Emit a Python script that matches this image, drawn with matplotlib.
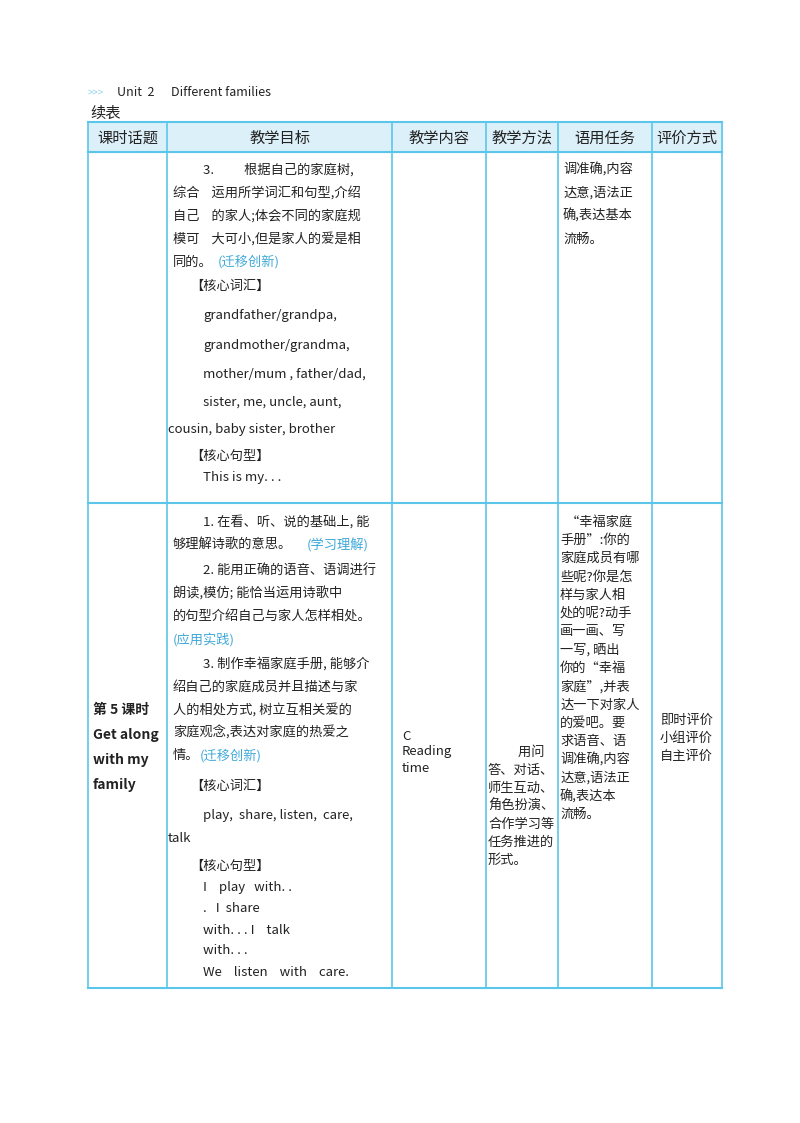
import matplotlib.pyplot as plt

plt.rcParams['font.family'] = ['Noto Sans CJK SC', 'DejaVu Sans']

headers = ["课时话题", "教学目标", "教学内容", "教学方法", "语用任务", "评价方式"]
col_x = [88, 167, 392, 486, 558, 652, 722]
row_y = [122, 152, 503, 988]

blue = '#3fa9d9'
line_c = '#5cc6ea'
dark = '#222222'

# (x, y, text, colour, size)
goal1 = [
    (203, 170, "3.          根据自己的家庭树,", dark, 9.5),
    (173, 193, "综合    运用所学词汇和句型,介绍", dark, 9.5),
    (173, 216, "自己    的家人;体会不同的家庭规", dark, 9.5),
    (173, 239, "模可    大可小,但是家人的爱是相", dark, 9.5),
    (173, 262, "同的。", dark, 9.5),
    (190, 286, "【核心词汇】", dark, 9.5),
    (203, 316, "grandfather/grandpa,", dark, 9.5),
    (203, 345, "grandmother/grandma,", dark, 9.5),
    (203, 374, "mother/mum , father/dad,", dark, 9.5),
    (203, 402, "sister, me, uncle, aunt,", dark, 9.5),
    (168, 430, "cousin, baby sister, brother", dark, 9.5),
    (190, 456, "【核心句型】", dark, 9.5),
    (203, 478, "This is my. . .", dark, 9.5),
]
goal1_blue = [(218, 262, "(迁移创新)")]

task1 = ["调准确,内容", "达意,语法正", "确,表达基本", "流畅。"]

goal2 = [
    (203, 522, "1. 在看、听、说的基础上, 能"),
    (173, 545, "够理解诗歌的意思。"),
    (203, 571, "2. 能用正确的语音、语调进行"),
    (173, 594, "朗读,模仿; 能恰当运用诗歌中"),
    (173, 617, "的句型介绍自己与家人怎样相处。"),
    (203, 664, "3. 制作幸福家庭手册, 能够介"),
    (173, 687, "绍自己的家庭成员并且描述与家"),
    (173, 710, "人的相处方式, 树立互相关爱的"),
    (173, 733, "家庭观念,表达对家庭的热爱之"),
    (173, 756, "情。"),
    (190, 786, "【核心词汇】"),
    (203, 816, "play,  share, listen,  care,"),
    (168, 838, "talk"),
    (190, 866, "【核心句型】"),
    (203, 888, "I    play   with. ."),
    (203, 909, ".   I  share"),
    (203, 930, "with. . . I    talk"),
    (203, 951, "with. . ."),
    (203, 973, "We    listen    with    care."),
]
goal2_blue = [(307, 545, "(学习理解)"), (173, 640, "(应用实践)"), (200, 756, "(迁移创新)")]

topic2 = ["第 5 课时", "Get along", "with my", "family"]
content2 = ["C", "Reading", "time"]
method2 = ["          用问", "答、对话、", "师生互动、", "角色扮演、", "合作学习等", "任务推进的", "形式。"]
task2 = ["  \u201c幸福家庭", "手册\u201d:你的", "家庭成员有哪", "些呢?你是怎", "样与家人相", "处的呢?动手", "画一画、写", "一写, 晒出", "你的\u201c幸福", "家庭\u201d,并表", "达一下对家人", "的爱吧。要", "求语音、语", "调准确,内容", "达意,语法正", "确,表达本", "流畅。"]
eval2 = ["即时评价", "小组评价", "自主评价"]

fig = plt.figure(figsize=(8, 11.23), dpi=100)
ax = fig.add_axes([0, 0, 1, 1])
ax.set_xlim(0, 800)
ax.set_ylim(1123, 0)
ax.axis('off')

ax.text(88, 93, ">>>", color='#8fd3ef', fontsize=7, va='center')
ax.text(117, 93, "Unit  2      Different families", color=dark, fontsize=9, va='center')
ax.text(90, 113, "续表", color=dark, fontsize=11, va='center')

ax.fill_between([col_x[0], col_x[-1]], row_y[0], row_y[1], color='#dcf0f9')
for i, h in enumerate(headers):
    ax.text((col_x[i] + col_x[i + 1]) / 2, 138, h, ha='center', va='center', fontsize=11, color=dark)

for y in row_y:
    ax.plot([col_x[0], col_x[-1]], [y, y], color=line_c, lw=1.5)
for x in col_x:
    ax.plot([x, x], [row_y[0], row_y[-1]], color=line_c, lw=1.2)

for x, y, t, c, s in goal1:
    ax.text(x, y, t, color=c, fontsize=s, va='center')
for x, y, t in goal1_blue + goal2_blue:
    ax.text(x, y, t, color=blue, fontsize=9.5, va='center')
for i, t in enumerate(task1):
    ax.text(563, 170 + i * 23, t, fontsize=9.5, va='center', color=dark)
for x, y, t in goal2:
    ax.text(x, y, t, fontsize=9.5, va='center', color=dark)

for i, t in enumerate(topic2):
    ax.text(93, 710 + i * 25, t, fontsize=10, va='center', fontweight='bold', color=dark)
for i, t in enumerate(content2):
    ax.text(402, 736 + i * 16, t, fontsize=9.5, va='center', color=dark)
for i, t in enumerate(method2):
    ax.text(488, 752 + i * 18, t, fontsize=9.5, va='center', color=dark)
for i, t in enumerate(task2):
    ax.text(560, 522 + i * 18.3, t, fontsize=9.5, va='center', color=dark)
for i, t in enumerate(eval2):
    ax.text(660, 720 + i * 18, t, fontsize=9.5, va='center', color=dark)

fig.savefig("out.png", dpi=100, facecolor='white')
